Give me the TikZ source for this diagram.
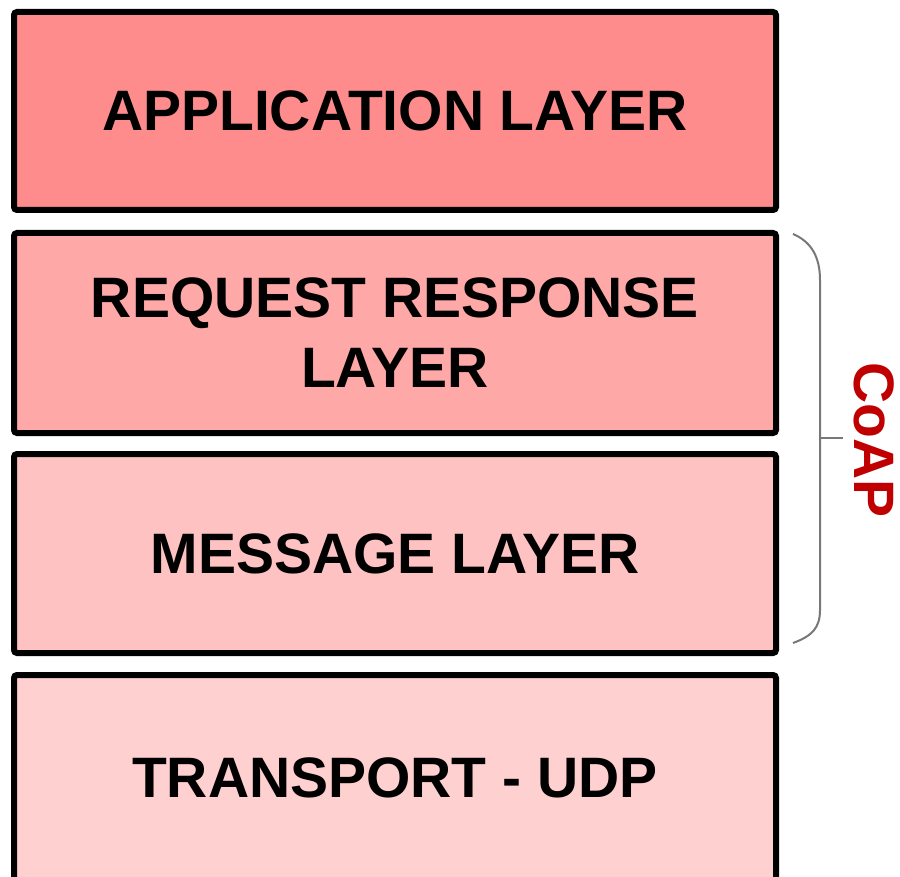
\documentclass[tikz,border=0pt]{standalone}
\usepackage{fontspec}
\setmainfont{Liberation Sans}
\definecolor{layerA}{RGB}{255,140,140}
\definecolor{layerB}{RGB}{255,168,168}
\definecolor{layerC}{RGB}{255,194,194}
\definecolor{layerD}{RGB}{255,208,208}
\definecolor{bracegray}{RGB}{120,120,120}
\definecolor{coapred}{RGB}{192,0,0}
\begin{document}
\begin{tikzpicture}[x=1pt,y=-1pt,
  layerbox/.style={draw=black, line width=6pt, rounded corners=3pt,
    minimum width=762pt, inner sep=0pt, align=center,
    font=\fontsize{57}{70}\selectfont\bfseries},
  bracepath/.style={draw=bracegray, line width=2pt}]
  \useasboundingbox (0,0) rectangle (900,877);
  \clip (0,0) rectangle (900,877);
  \node[layerbox, fill=layerA, minimum height=198pt] (app) at (395,111) {APPLICATION LAYER};
  \node[layerbox, fill=layerB, minimum height=200pt] (reqresp) at (395,333) {REQUEST RESPONSE\\LAYER};
  \node[layerbox, fill=layerC, minimum height=199pt] (msg) at (395,553.5) {MESSAGE LAYER};
  \node[layerbox, fill=layerD, minimum height=206pt] (udp) at (395,778) {TRANSPORT - UDP};
  % brace spanning the two CoAP layers
  \coordinate (btop) at (793,234);
  \coordinate (bbot) at (793,643);
  \coordinate (bmid) at (820,438);
  \coordinate (btip) at (843,438);
  \path[bracepath] (btop) .. controls (812,242) and (820,258) .. (820,280)
    -- (820,610) .. controls (820,628) and (812,636) .. (bbot);
  \path[bracepath] (bmid) -- (btip);
  \node[rotate=-90, text=coapred, font=\fontsize{57}{60}\selectfont\bfseries, inner sep=0pt] (coap) at (874,440) {CoAP};
\end{tikzpicture}
\end{document}
